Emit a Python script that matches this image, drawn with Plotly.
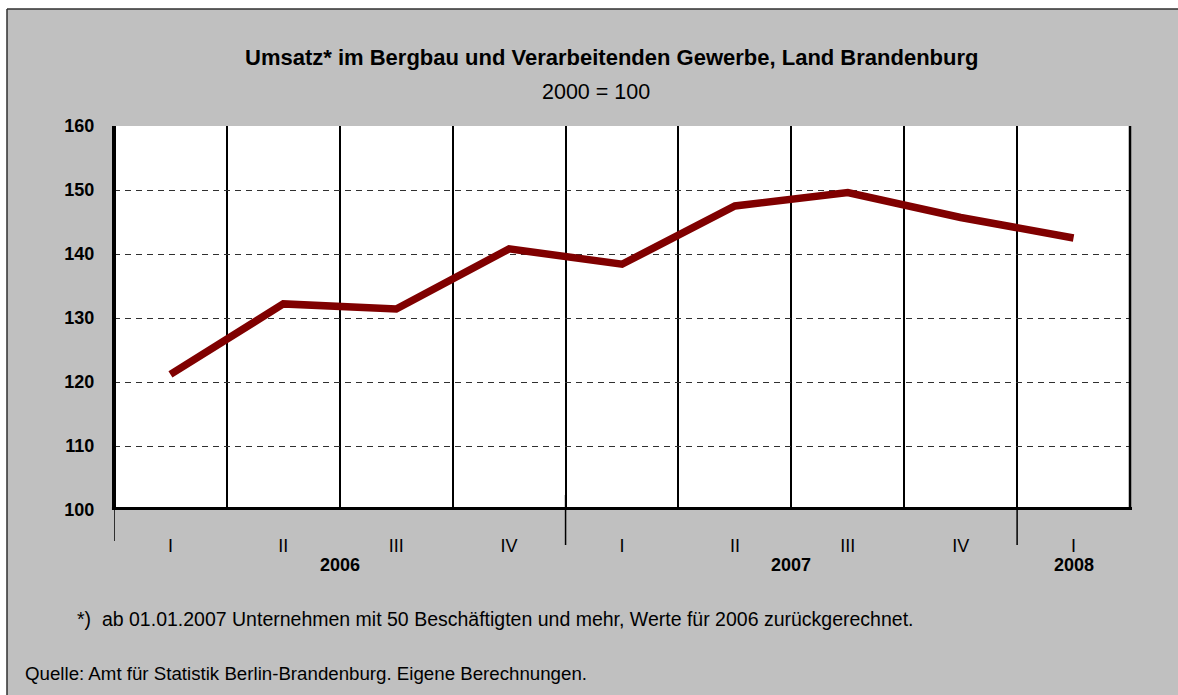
import plotly.graph_objects as go

# ---- data ----
quarters = ["I", "II", "III", "IV", "I", "II", "III", "IV", "I"]
years = ["2006", "2006", "2006", "2006", "2007", "2007", "2007", "2007", "2008"]
values = [121.2, 132.2, 131.4, 140.8, 138.4, 147.5, 149.6, 145.7, 142.5]
y_ticks = [100, 110, 120, 130, 140, 150, 160]

title_text = "Umsatz* im Bergbau und Verarbeitenden Gewerbe, Land Brandenburg"
subtitle_text = "2000 = 100"
footnote_text = "*)  ab 01.01.2007 Unternehmen mit 50 Beschäftigten und mehr, Werte für 2006 zurückgerechnet."
source_text = "Quelle: Amt für Statistik Berlin-Brandenburg. Eigene Berechnungen."

FONT = "Liberation Sans, Arial, Helvetica, sans-serif"

W, H = 1178, 695
ML, MR, MT, MB = 114, 48, 126, 185
PW, PH = W - ML - MR, H - MT - MB


def px_x(px):
    return (px - ML) / PW


def px_y(py):
    return (H - MB - py) / PH


x = list(range(len(quarters)))
boundaries = [i + 0.5 for i in range(len(quarters) - 1)]

fig = go.Figure()
fig.add_trace(go.Scatter(
    x=x, y=values, mode="lines",
    line=dict(color="#800000", width=7.5),
    hoverinfo="skip", showlegend=False,
))

shapes = []
# white outer strips + border
shapes.append(dict(type="rect", xref="paper", yref="paper", layer="below",
                   x0=px_x(-20), x1=px_x(7), y0=px_y(800), y1=px_y(-20),
                   fillcolor="white", line=dict(width=0)))
shapes.append(dict(type="rect", xref="paper", yref="paper", layer="below",
                   x0=px_x(-20), x1=px_x(1300), y0=px_y(9), y1=px_y(-20),
                   fillcolor="white", line=dict(width=0)))
shapes.append(dict(type="line", xref="paper", yref="paper",
                   x0=px_x(7), x1=px_x(7), y0=px_y(9), y1=px_y(800),
                   line=dict(color="#303030", width=1.5)))
shapes.append(dict(type="line", xref="paper", yref="paper",
                   x0=px_x(7), x1=px_x(1300), y0=px_y(9), y1=px_y(9),
                   line=dict(color="#303030", width=1.5)))
# right edge of plot
shapes.append(dict(type="line", xref="paper", yref="paper",
                   x0=1, x1=1, y0=0, y1=1,
                   line=dict(color="black", width=2.5)))
# year separators below axis
year_edges = [-0.5] + [i - 0.5 for i in range(1, len(years)) if years[i] != years[i - 1]]
for k, xe in enumerate(year_edges):
    top = 0 if k == 0 else px_y(495)
    bot = px_y(541) if k == 0 else px_y(545)
    shapes.append(dict(type="line", xref="x", yref="paper",
                       x0=xe, x1=xe, y0=bot, y1=top,
                       line=dict(color="black", width=1.5)))
# thick axis lines (value axis at 100, category axis at left edge)
shapes.append(dict(type="line", xref="paper", yref="y",
                   x0=-0.002, x1=px_x(1132), y0=y_ticks[0], y1=y_ticks[0],
                   line=dict(color="black", width=6)))
shapes.append(dict(type="line", xref="paper", yref="y",
                   x0=0, x1=0, y0=y_ticks[0], y1=y_ticks[-1] + 0.15,
                   line=dict(color="black", width=4)))

annotations = [
    dict(text="<b>" + title_text + "</b>", xref="paper", yref="paper",
         x=px_x(611), y=px_y(57), yanchor="middle", showarrow=False,
         font=dict(family=FONT, size=22, color="black")),
    dict(text=subtitle_text, xref="paper", yref="paper",
         x=px_x(596), y=px_y(92), yanchor="middle", showarrow=False,
         font=dict(family=FONT, size=21.5, color="black")),
    dict(text=footnote_text, xref="paper", yref="paper",
         x=px_x(75), y=px_y(619), xanchor="left", yanchor="middle", showarrow=False,
         font=dict(family=FONT, size=19.5, color="black")),
    dict(text=source_text, xref="paper", yref="paper",
         x=px_x(23), y=px_y(673), xanchor="left", yanchor="middle", showarrow=False,
         font=dict(family=FONT, size=18.7, color="black")),
]
# year labels centred under their quarters
seen = []
for yr in years:
    if yr not in seen:
        seen.append(yr)
for yr in seen:
    idx = [i for i, v in enumerate(years) if v == yr]
    annotations.append(dict(
        text="<b>" + yr + "</b>", xref="x", yref="paper",
        x=sum(idx) / len(idx), y=px_y(565), yanchor="middle", showarrow=False,
        font=dict(family=FONT, size=18, color="black")))

fig.update_layout(
    width=W, height=H,
    margin=dict(l=ML, r=MR, t=MT, b=MB, pad=0),
    paper_bgcolor="#c0c0c0",
    plot_bgcolor="white",
    shapes=shapes,
    annotations=annotations,
    showlegend=False,
    xaxis=dict(
        range=[-0.5, len(quarters) - 0.5],
        tickvals=x, ticktext=quarters,
        tickfont=dict(family=FONT, size=18, color="black"),
        ticks="outside", ticklen=19, tickcolor="rgba(0,0,0,0)",
        showgrid=False, zeroline=False, showline=False,
        minor=dict(tickvals=boundaries, showgrid=True,
                   gridcolor="black", gridwidth=2, ticks=""),
        fixedrange=True,
    ),
    yaxis=dict(
        range=[100, 160],
        tickvals=y_ticks,
        tickfont=dict(family=FONT, size=18, color="black", weight="bold"),
        ticks="outside", ticklen=15, tickcolor="rgba(0,0,0,0)",
        showgrid=True, gridcolor="#303030", gridwidth=1, griddash="6px,5px",
        zeroline=False, showline=False,
        fixedrange=True,
    ),
)

fig.write_html("out.html", config={"displayModeBar": False},
               post_script="document.body.style.margin='0px';")
